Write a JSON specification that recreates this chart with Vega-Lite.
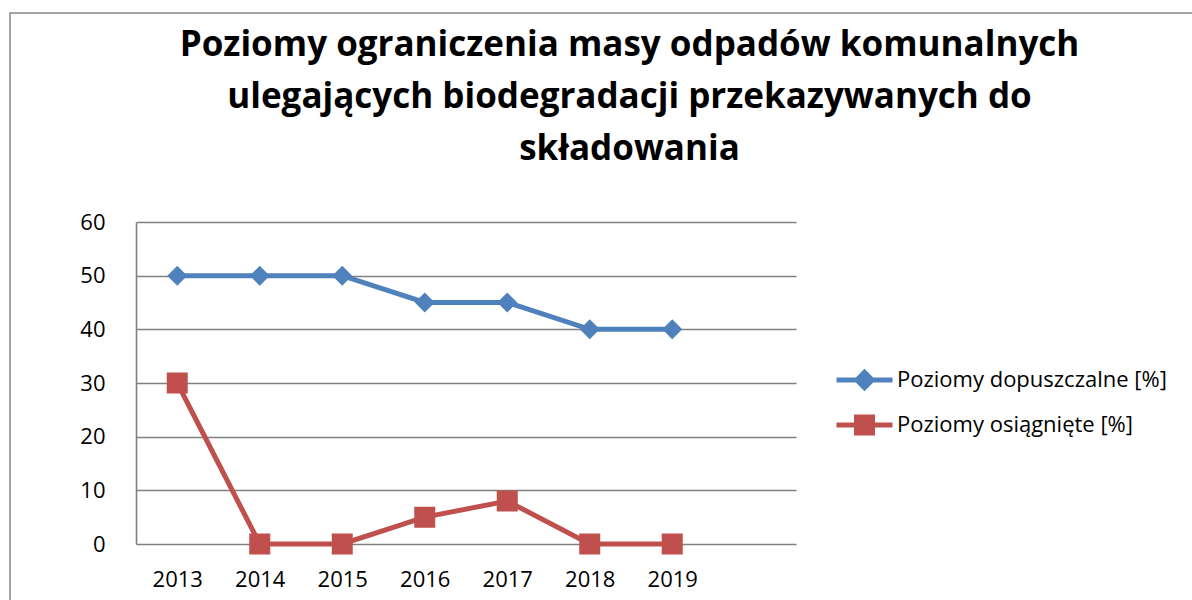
{
  "$schema": "https://vega.github.io/schema/vega-lite/v6.json",
  "autosize": {"type": "none"},
  "padding": {"left": 10, "top": 13, "right": 0, "bottom": 0},
  "width": 1183,
  "height": 590,
  "background": "white",
  "title": {
    "text": ["Poziomy ograniczenia masy odpadów komunalnych", "ulegających biodegradacji przekazywanych do", "składowania"],
    "font": "Open Sans",
    "fontWeight": "bold",
    "fontSize": 35,
    "lineHeight": 52,
    "anchor": "middle",
    "frame": "group",
    "dx": 28,
    "offset": -154,
    "color": "black"
  },
  "config": {
    "view": {"stroke": "#868686", "strokeWidth": 1.5},
    "font": "Open Sans"
  },
  "data": {
    "values": [
      {"year": 2013, "series": "Poziomy dopuszczalne [%]", "value": 50},
      {"year": 2014, "series": "Poziomy dopuszczalne [%]", "value": 50},
      {"year": 2015, "series": "Poziomy dopuszczalne [%]", "value": 50},
      {"year": 2016, "series": "Poziomy dopuszczalne [%]", "value": 45},
      {"year": 2017, "series": "Poziomy dopuszczalne [%]", "value": 45},
      {"year": 2018, "series": "Poziomy dopuszczalne [%]", "value": 40},
      {"year": 2019, "series": "Poziomy dopuszczalne [%]", "value": 40},
      {"year": 2013, "series": "Poziomy osiągnięte [%]", "value": 30},
      {"year": 2014, "series": "Poziomy osiągnięte [%]", "value": 0},
      {"year": 2015, "series": "Poziomy osiągnięte [%]", "value": 0},
      {"year": 2016, "series": "Poziomy osiągnięte [%]", "value": 5},
      {"year": 2017, "series": "Poziomy osiągnięte [%]", "value": 8},
      {"year": 2018, "series": "Poziomy osiągnięte [%]", "value": 0},
      {"year": 2019, "series": "Poziomy osiągnięte [%]", "value": 0}
    ]
  },
  "encoding": {
    "x": {
      "field": "year",
      "type": "quantitative",
      "scale": {"domain": [2012.5, 2020.5], "range": [126, 786], "nice": false, "zero": false},
      "axis": {
        "orient": "bottom",
        "offset": -59,
        "values": [2013, 2014, 2015, 2016, 2017, 2018, 2019],
        "format": "d",
        "grid": false,
        "ticks": false,
        "tickSize": 0,
        "domain": false,
        "labelPadding": 25,
        "labelFont": "Open Sans",
        "labelFontSize": 22,
        "labelColor": "black",
        "title": null
      }
    },
    "y": {
      "field": "value",
      "type": "quantitative",
      "scale": {"domain": [0, 60], "range": [531, 209], "nice": false, "zero": true},
      "axis": {
        "orient": "left",
        "offset": -126,
        "values": [0, 10, 20, 30, 40, 50, 60],
        "grid": true,
        "gridColor": "#808080",
        "gridWidth": 1.6,
        "domain": true,
        "domainColor": "#808080",
        "domainWidth": 1.6,
        "ticks": false,
        "tickSize": 0,
        "labelPadding": 31,
        "labelFont": "Open Sans",
        "labelFontSize": 22,
        "labelColor": "black",
        "title": null
      }
    },
    "color": {
      "field": "series",
      "type": "nominal",
      "title": null,
      "scale": {"domain": ["Poziomy dopuszczalne [%]", "Poziomy osiągnięte [%]"], "range": ["#4F81BD", "#C0504D"]},
      "legend": {
        "orient": "none",
        "legendX": 843.5,
        "legendY": 356,
        "labelFont": "Open Sans",
        "labelFontSize": 22,
        "labelColor": "black",
        "labelOffset": 21.5,
        "labelLimit": 0,
        "rowPadding": 9,
        "padding": 0,
        "symbolSize": 256,
        "symbolStrokeWidth": 5
      }
    }
  },
  "layer": [
    {
      "mark": {"type": "line", "strokeWidth": 5}
    },
    {
      "mark": {"type": "point", "filled": true, "opacity": 1, "size": 441},
      "encoding": {
        "shape": {
          "field": "series",
          "type": "nominal",
          "legend": null,
          "scale": {
            "domain": ["Poziomy dopuszczalne [%]", "Poziomy osiągnięte [%]"],
            "range": ["M-3.5,0H3.5M-0.95,0L0,-0.95L0.95,0L0,0.95Z", "M-3.5,0H3.5M-1,-1H1V1H-1Z"]
          }
        }
      }
    }
  ]
}
